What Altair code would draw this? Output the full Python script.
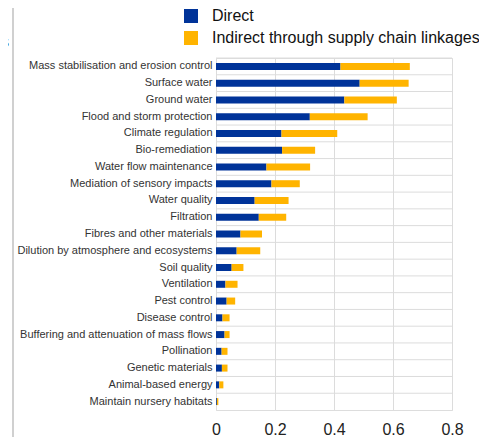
import altair as alt
import pandas as pd

categories = [
    "Mass stabilisation and erosion control",
    "Surface water",
    "Ground water",
    "Flood and storm protection",
    "Climate regulation",
    "Bio-remediation",
    "Water flow maintenance",
    "Mediation of sensory impacts",
    "Water quality",
    "Filtration",
    "Fibres and other materials",
    "Dilution by atmosphere and ecosystems",
    "Soil quality",
    "Ventilation",
    "Pest control",
    "Disease control",
    "Buffering and attenuation of mass flows",
    "Pollination",
    "Genetic materials",
    "Animal-based energy",
    "Maintain nursery habitats",
]
direct = [0.422, 0.487, 0.435, 0.318, 0.222, 0.224, 0.171, 0.188, 0.131, 0.145,
          0.083, 0.070, 0.053, 0.032, 0.036, 0.022, 0.029, 0.019, 0.020, 0.011, 0.003]
indirect = [0.235, 0.166, 0.178, 0.196, 0.189, 0.112, 0.148, 0.096, 0.115, 0.093,
            0.073, 0.080, 0.040, 0.041, 0.029, 0.024, 0.017, 0.020, 0.019, 0.014, 0.005]
series = ["Direct", "Indirect through supply chain linkages"]
colors = ["#003399", "#FFB400"]
x_ticks = [0, 0.2, 0.4, 0.6, 0.8]
clipped_text = ["es"]

rows = []
for c, d, i in zip(categories, direct, indirect):
    rows.append({"cat": c, "series": series[0], "value": d, "ord": 0})
    rows.append({"cat": c, "series": series[1], "value": i, "ord": 1})
df = pd.DataFrame(rows)

W, H = 236, 352
FONT = "Liberation Sans"

y_enc_scale = alt.Scale(paddingInner=0, paddingOuter=0)

grid = alt.Chart(pd.DataFrame({"cat": categories})).mark_rule(
    color="#dcdcdc", strokeWidth=1
).encode(
    y=alt.Y("cat:N", sort=categories, scale=y_enc_scale, bandPosition=0)
)

bars = alt.Chart(df).mark_bar(size=7).encode(
    x=alt.X(
        "value:Q",
        stack="zero",
        scale=alt.Scale(domain=[0, 0.8], nice=False),
        axis=alt.Axis(
            values=x_ticks, format=".1~f", grid=True, gridColor="#dcdcdc",
            ticks=False, domain=False, labelFontSize=16, labelPadding=11,
            labelColor="#222222", title=None, labelFont=FONT, labelFlush=False,
        ),
    ),
    y=alt.Y(
        "cat:N", sort=categories, scale=y_enc_scale,
        axis=alt.Axis(
            title=None, ticks=False, domain=False, labelFontSize=11,
            labelPadding=4, labelColor="#333333", labelLimit=400, labelFont=FONT,
        ),
    ),
    color=alt.Color(
        "series:N",
        scale=alt.Scale(domain=series, range=colors),
        legend=alt.Legend(
            title=None, orient="none", legendX=-33, legendY=-50, padding=0,
            symbolType="square", symbolSize=196, symbolStrokeWidth=0,
            labelFontSize=16, labelOffset=13, rowPadding=6, labelFont=FONT,
            labelColor="#111111", labelLimit=400,
        ),
    ),
    order=alt.Order("ord:Q"),
)

side_line = alt.Chart(pd.DataFrame({"t": [0]})).mark_rule(
    color="#d0d0d0", strokeWidth=2
).encode(
    x=alt.value(-203), y=alt.value(-50), y2=alt.value(380)
)

side_text = alt.Chart(pd.DataFrame({"t": clipped_text})).mark_text(
    align="right", baseline="alphabetic", fontSize=16, font=FONT, color="#222222"
).encode(
    text="t:N", x=alt.value(-207), y=alt.value(-11)
)

chart = alt.layer(grid, bars, side_line, side_text).properties(
    width=W, height=H,
    autosize=alt.AutoSizeParams(type="none"),
    padding={"left": 208, "top": 50, "right": 27, "bottom": 27},
).configure_view(stroke="#d0d0d0", strokeWidth=1).configure(font=FONT)

chart.save("out.html", embed_options={"renderer": "svg", "actions": False})
